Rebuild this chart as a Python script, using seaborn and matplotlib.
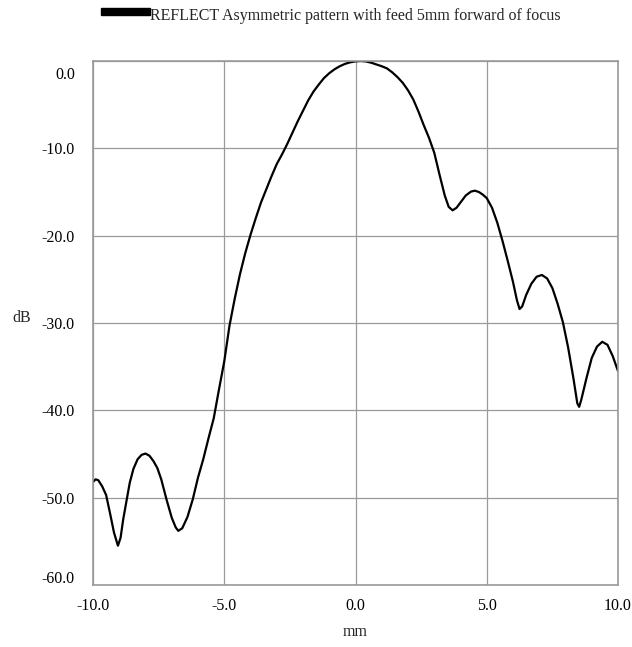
import pandas as pd
import matplotlib.pyplot as plt
import matplotlib.transforms as mtransforms
from matplotlib.patches import Rectangle
import seaborn as sns

# values (mm, dB)
pos_mm = [-10.0, -9.9, -9.8, -9.65, -9.5, -9.35, -9.2, -9.05, -8.95, -8.85,
          -8.72, -8.6, -8.46, -8.3, -8.15, -8.0, -7.85, -7.7, -7.55, -7.4,
          -7.2, -7.0, -6.85, -6.75, -6.6, -6.4, -6.2, -6.0, -5.8, -5.6,
          -5.4, -5.2, -5.0, -4.8, -4.6, -4.4, -4.2, -4.0, -3.8, -3.6,
          -3.4, -3.2, -3.0, -2.8, -2.6, -2.4, -2.2, -2.0, -1.8, -1.6,
          -1.4, -1.2, -1.0, -0.8, -0.6, -0.4, -0.2, 0.0, 0.2, 0.4,
          0.6, 0.8, 1.0, 1.2, 1.4, 1.6, 1.8, 2.0, 2.2, 2.4,
          2.6, 2.8, 3.0, 3.2, 3.4, 3.55, 3.7, 3.85, 4.0, 4.2,
          4.4, 4.55, 4.7, 4.85, 5.0, 5.2, 5.4, 5.6, 5.8, 6.0,
          6.15, 6.25, 6.35, 6.5, 6.7, 6.9, 7.1, 7.3, 7.5, 7.7,
          7.9, 8.1, 8.3, 8.45, 8.52, 8.6, 8.8, 9.0, 9.2, 9.4,
          9.6, 9.8, 10.0]
level_db = [-48.2, -47.9, -48.0, -48.7, -49.7, -51.8, -54.0, -55.5, -54.6, -52.5,
            -50.3, -48.3, -46.7, -45.6, -45.1, -44.95, -45.2, -45.8, -46.6, -47.9,
            -50.2, -52.3, -53.4, -53.8, -53.5, -52.2, -50.2, -47.7, -45.6, -43.2,
            -40.9, -37.6, -34.4, -30.3, -27.2, -24.4, -22.0, -19.9, -18.0, -16.2,
            -14.7, -13.2, -11.8, -10.7, -9.5, -8.2, -6.9, -5.7, -4.5, -3.5,
            -2.7, -1.95, -1.4, -0.95, -0.6, -0.33, -0.15, -0.04, 0.0, -0.05,
            -0.2, -0.4, -0.6, -0.85, -1.3, -1.85, -2.5, -3.35, -4.4, -5.8,
            -7.35, -8.8, -10.5, -13.0, -15.4, -16.7, -17.1, -16.8, -16.2, -15.4,
            -14.95, -14.85, -15.0, -15.3, -15.7, -16.8, -18.5, -20.6, -22.9, -25.3,
            -27.4, -28.4, -28.1, -26.8, -25.5, -24.7, -24.5, -24.9, -26.0, -27.8,
            -29.9, -32.8, -36.3, -39.2, -39.6, -38.8, -36.3, -34.0, -32.7, -32.15,
            -32.5, -33.8, -35.5]

x_ticks = [-10, -5, 0, 5, 10]
y_ticks = [0, -10, -20, -30, -40, -50, -60]
title = "REFLECT Asymmetric pattern with feed 5mm forward of focus"

df = pd.DataFrame({"mm": pos_mm, "dB": level_db})

sns.set_style("white")
plt.rcParams["font.family"] = ["Liberation Serif", "DejaVu Serif"]

fig = plt.figure(figsize=(6.32, 6.47), dpi=100)
ax = fig.add_axes([93 / 632, 1 - 585 / 647, 525 / 632, 524 / 647])

sns.lineplot(data=df, x="mm", y="dB", color="black", linewidth=1.6,
             sort=False, estimator=None, ax=ax)
ax.lines[0].set_solid_joinstyle("round")

ax.set_xlim(-10, 10)
ax.set_ylim(-60, 0)
ax.set_xticks(x_ticks)
ax.set_yticks(y_ticks)
ax.set_xticklabels([f"{v:.1f}" for v in x_ticks], fontsize=11.5)
ax.set_yticklabels([f"{v:.1f}" for v in y_ticks], fontsize=11.5)
ax.tick_params(length=0, pad=9, colors="black")
ax.tick_params(axis="y", pad=13)
ax.grid(True, color="#9a9a9a", linewidth=0.9)
for sp in ax.spines.values():
    sp.set_color("#9a9a9a")
    sp.set_linewidth(1.2)
ax.set_xlabel("")
ax.set_ylabel("")

# first and last y labels are pushed inside the plot range, like the original
fig.canvas.draw()
ylabs = ax.get_yticklabels()
for lab, dy in [(ylabs[0], -12), (ylabs[-1], 8)]:
    lab.set_transform(lab.get_transform() +
                      mtransforms.ScaledTranslation(0, dy / 100, fig.dpi_scale_trans))

fig.text(22 / 632, 1 - 318 / 647, "dB", fontsize=11.5, ha="center", va="center")
fig.text(355 / 632, 1 - 632 / 647, "mm", fontsize=11.5, ha="center", va="center")

fig.patches.append(Rectangle((101 / 632, 1 - 15 / 647), 49 / 632, 7 / 647,
                             transform=fig.transFigure, color="black"))
fig.text(150 / 632, 1 - 20 / 647, title, fontsize=11.5, ha="left", va="baseline")

fig.savefig("out.png", dpi=100)
